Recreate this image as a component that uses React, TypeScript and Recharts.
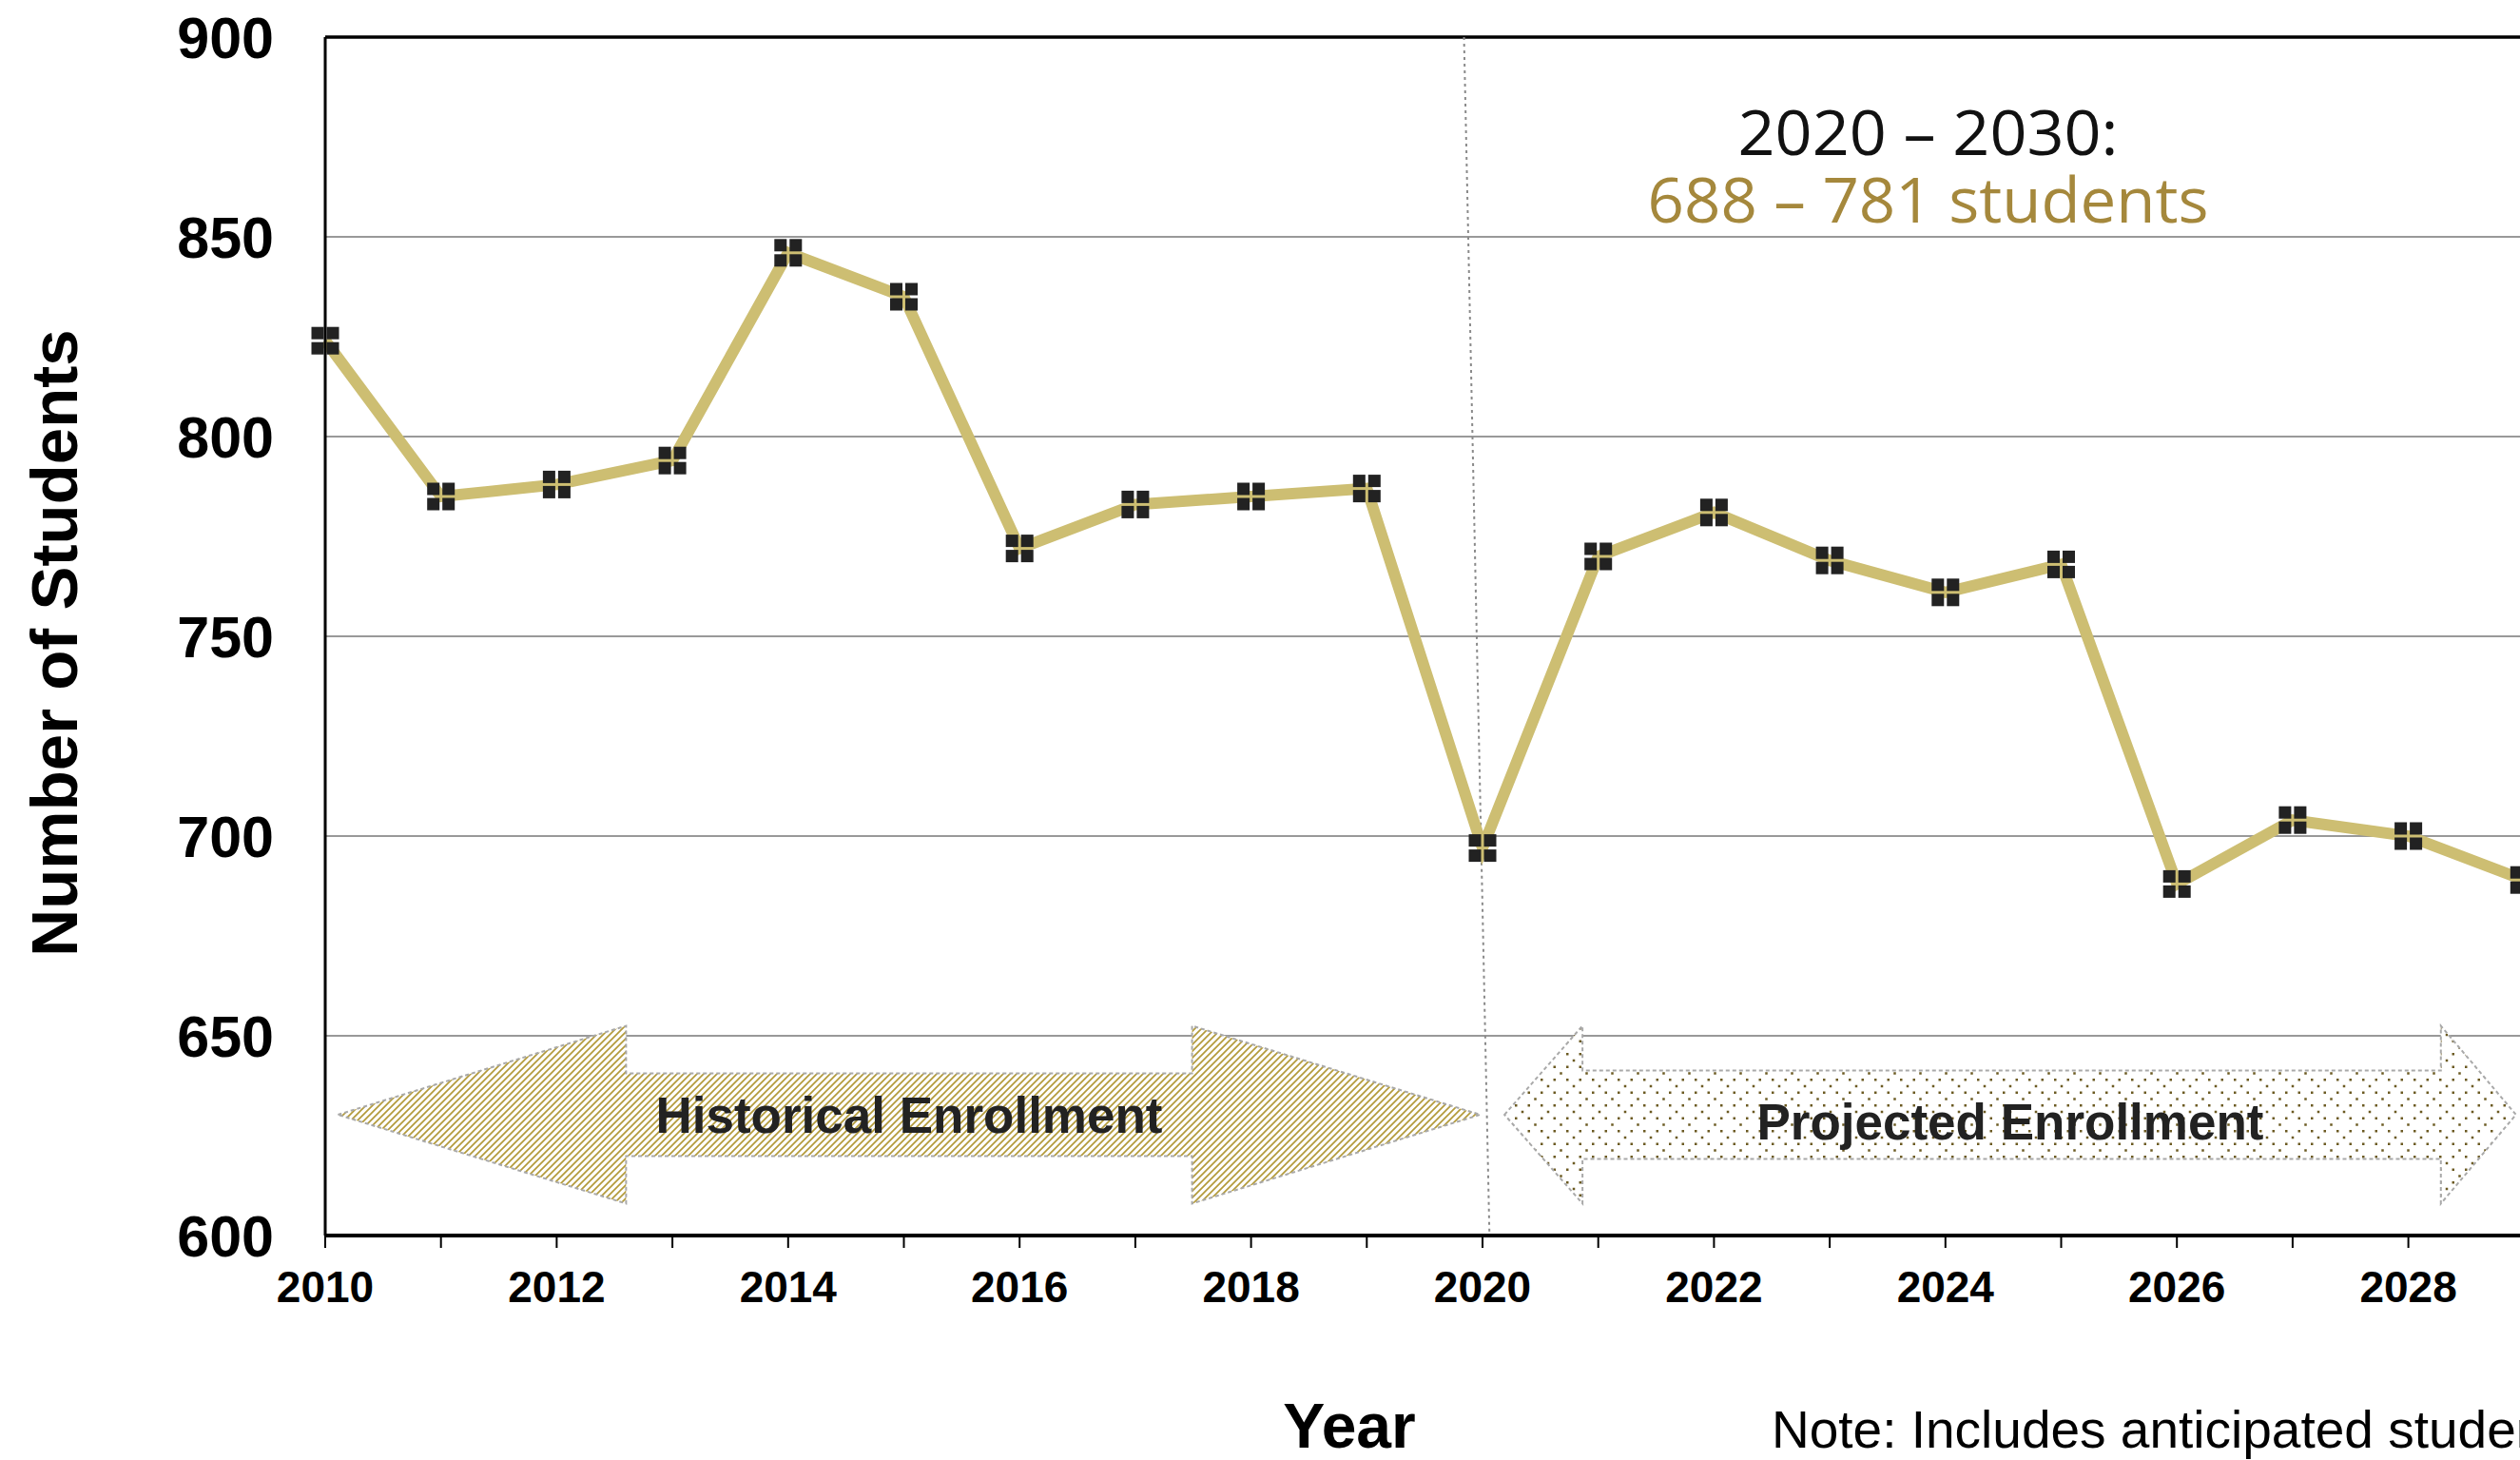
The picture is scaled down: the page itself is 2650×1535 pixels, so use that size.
import React from 'react';
import {
  LineChart,
  Line,
  XAxis,
  YAxis,
  CartesianGrid,
  ReferenceLine,
  ReferenceArea,
} from 'recharts';

const FONT = '"Liberation Sans", Arial, Helvetica, sans-serif';
const NOTE_FONT = '"Open Sans", "Noto Sans", sans-serif';

// ---- data ----
const years = [
  2010, 2011, 2012, 2013, 2014, 2015, 2016, 2017, 2018, 2019,
  2020, 2021, 2022, 2023, 2024, 2025, 2026, 2027, 2028, 2029,
];
const students = [
  824, 785, 788, 794, 846, 835, 772, 783, 785, 787,
  697, 770, 781, 769, 761, 768, 688, 704, 700, 689,
];
const xTicks = [
  2010, 2011, 2012, 2013, 2014, 2015, 2016, 2017, 2018, 2019, 2020,
  2021, 2022, 2023, 2024, 2025, 2026, 2027, 2028, 2029, 2030,
];
const yTicks = [600, 650, 700, 750, 800, 850, 900];

const historicalSpan = [2010.11, 2019.98];
const projectedSpan = [2020.19, 2028.93];
const arrowBand = [608, 652.5];
const dividerSegment = [
  { x: 2019.84, y: 900 },
  { x: 2020.06, y: 600 },
];
const summarySpan = [2021, 2026.7];
const summaryBand = [860, 900];

const historicalLabel = 'Historical Enrollment';
const projectedLabel = 'Projected Enrollment';
const summaryTitle = '2020 \u2013 2030:';
const summaryRange = '688 \u2013 781 students';
const xTitle = 'Year';
const yTitle = 'Number of Students';
const noteText = 'Note: Includes anticipated students';

const data = years.map((year, i) => ({ year, students: students[i] }));

// ---- renderers ----
const Marker = (props: any) => {
  const { cx, cy, index } = props;
  if (cx == null || cy == null) return <g key={`m-${index}`} />;
  const q = 13;
  const g = 3;
  const s = q * 2 + g;
  const x0 = cx - s / 2;
  const y0 = cy - s / 2;
  return (
    <g key={`m-${index}`}>
      <rect x={x0} y={y0} width={q} height={q} fill="#222" />
      <rect x={x0 + q + g} y={y0} width={q} height={q} fill="#222" />
      <rect x={x0} y={y0 + q + g} width={q} height={q} fill="#222" />
      <rect x={x0 + q + g} y={y0 + q + g} width={q} height={q} fill="#222" />
    </g>
  );
};

const makeArrow = (headL: number, headR: number, inset: number, kind: 'hatch' | 'dots') => (props: any) => {
  const { x, y, width, height } = props;
  const midY = y + height / 2;
  const pts = [
    [x, midY],
    [x + headL, y],
    [x + headL, y + inset],
    [x + width - headR, y + inset],
    [x + width - headR, y],
    [x + width, midY],
    [x + width - headR, y + height],
    [x + width - headR, y + height - inset],
    [x + headL, y + height - inset],
    [x + headL, y + height],
  ]
    .map((p) => p.join(','))
    .join(' ');
  const id = kind === 'hatch' ? 'histHatch' : 'projDots';
  return (
    <g>
      <defs>
        {kind === 'hatch' ? (
          <pattern id={id} width={7} height={7} patternUnits="userSpaceOnUse">
            <rect width={7} height={7} fill="#ffffff" />
            <path d="M-1,8 L8,-1 M-4,4 L4,-4 M3,11 L11,3" stroke="#b39a3a" strokeWidth={1.7} />
          </pattern>
        ) : (
          <pattern id={id} width={27} height={27} patternUnits="userSpaceOnUse">
            <rect width={27} height={27} fill="#ffffff" />
            <rect x={0} y={0} width={2.5} height={2.5} fill="#6b5a22" />
            <rect x={13.5} y={0} width={2.5} height={2.5} fill="#6b5a22" />
            <rect x={6.75} y={6.75} width={2.5} height={2.5} fill="#6b5a22" />
            <rect x={0} y={13.5} width={2.5} height={2.5} fill="#6b5a22" />
            <rect x={13.5} y={13.5} width={2.5} height={2.5} fill="#6b5a22" />
            <rect x={20.25} y={20.25} width={2.5} height={2.5} fill="#6b5a22" />
          </pattern>
        )}
      </defs>
      <polygon
        points={pts}
        fill={`url(#${id})`}
        stroke="#a9a9a9"
        strokeWidth={2}
        strokeDasharray="4 3"
      />
    </g>
  );
};

const historicalArrow = makeArrow(303, 303, 50, 'hatch');
const projectedArrow = makeArrow(82, 79, 47, 'dots');

const renderSummary = (props: any) => {
  const vb = props.viewBox || { x: 0, y: 0, width: 0, height: 0 };
  const cx = vb.x + vb.width / 2;
  const top = vb.y;
  return (
    <g>
      <text
        x={cx}
        y={top + 124}
        textAnchor="middle"
        fontFamily={NOTE_FONT}
        fontSize={66}
        fill="#111"
        textLength={400}
        lengthAdjust="spacingAndGlyphs"
      >
        {summaryTitle}
      </text>
      <text
        x={cx}
        y={top + 195}
        textAnchor="middle"
        fontFamily={NOTE_FONT}
        fontSize={66}
        fill="#a5883c"
        textLength={590}
        lengthAdjust="spacingAndGlyphs"
      >
        {summaryRange}
      </text>
    </g>
  );
};

const renderXTitle = (props: any) => {
  const vb = props.viewBox || { x: 0, y: 0, width: 0, height: 0 };
  return (
    <g>
      <text
        x={vb.x + 1077}
        y={vb.y + 223}
        textAnchor="middle"
        fontFamily={FONT}
        fontWeight="bold"
        fontSize={66}
        fill="#000"
      >
        {xTitle}
      </text>
      <text x={vb.x + 1521} y={vb.y + 223} fontFamily={FONT} fontSize={55} fill="#000">
        {noteText}
      </text>
    </g>
  );
};

const renderYTitle = (props: any) => {
  const vb = props.viewBox || { x: 0, y: 0, width: 0, height: 0 };
  const bx = vb.x + 81;
  const cy = vb.y + vb.height / 2 + 7;
  return (
    <text
      x={bx}
      y={cy}
      transform={`rotate(-90, ${bx}, ${cy})`}
      textAnchor="middle"
      fontFamily={FONT}
      fontWeight="bold"
      fontSize={69}
      fill="#000"
    >
      {yTitle}
    </text>
  );
};

export default function App() {
  return (
    <div
      style={{
        position: 'absolute',
        left: 0,
        top: 0,
        width: 2650,
        height: 1535,
        overflow: 'hidden',
        background: '#fff',
      }}
    >
      <LineChart
        width={2800}
        height={1535}
        data={data}
        margin={{ top: 39, right: 24, bottom: 0, left: 0 }}
      >
        <CartesianGrid vertical={false} stroke="#999" strokeWidth={2} />
        <XAxis
          dataKey="year"
          type="number"
          domain={[2010, 2030]}
          ticks={xTicks}
          interval={0}
          height={236}
          axisLine={{ stroke: '#000', strokeWidth: 4 }}
          tickLine={{ stroke: '#000', strokeWidth: 2 }}
          tickSize={13}
          tickMargin={24}
          tickFormatter={(v: number) => (v % 2 === 0 ? String(v) : '')}
          tick={{ fontSize: 46, fontWeight: 'bold', fill: '#000', fontFamily: FONT }}
          label={{ content: renderXTitle }}
        />
        <YAxis
          type="number"
          domain={[600, 900]}
          ticks={yTicks}
          interval={0}
          width={342}
          axisLine={{ stroke: '#000', strokeWidth: 3 }}
          tickLine={false}
          tickSize={0}
          tickMargin={54}
          tick={{ fontSize: 61, fontWeight: 'bold', fill: '#000', fontFamily: FONT }}
          label={{ content: renderYTitle }}
        />
        <ReferenceLine y={900} stroke="#000" strokeWidth={3.5} />
        <ReferenceLine
          segment={dividerSegment}
          stroke="#8a8a8a"
          strokeWidth={2}
          strokeDasharray="3 4"
        />
        <ReferenceArea
          x1={historicalSpan[0]}
          x2={historicalSpan[1]}
          y1={arrowBand[0]}
          y2={arrowBand[1]}
          shape={historicalArrow}
          label={{
            value: historicalLabel,
            position: 'center',
            fontSize: 53,
            fontWeight: 'bold',
            fill: '#222',
            fontFamily: FONT,
          }}
        />
        <ReferenceArea
          x1={projectedSpan[0]}
          x2={projectedSpan[1]}
          y1={arrowBand[0]}
          y2={arrowBand[1]}
          shape={projectedArrow}
          label={{
            value: projectedLabel,
            position: 'center',
            fontSize: 53,
            fontWeight: 'bold',
            fill: '#222',
            fontFamily: FONT,
            dy: 7,
          }}
        />
        <ReferenceArea
          x1={summarySpan[0]}
          x2={summarySpan[1]}
          y1={summaryBand[0]}
          y2={summaryBand[1]}
          fill="none"
          stroke="none"
          fillOpacity={0}
          label={{ content: renderSummary }}
        />
        <Line
          type="linear"
          dataKey="students"
          stroke="#cdbe72"
          strokeWidth={12}
          dot={Marker}
          activeDot={false}
          isAnimationActive={false}
        />
      </LineChart>
    </div>
  );
}
